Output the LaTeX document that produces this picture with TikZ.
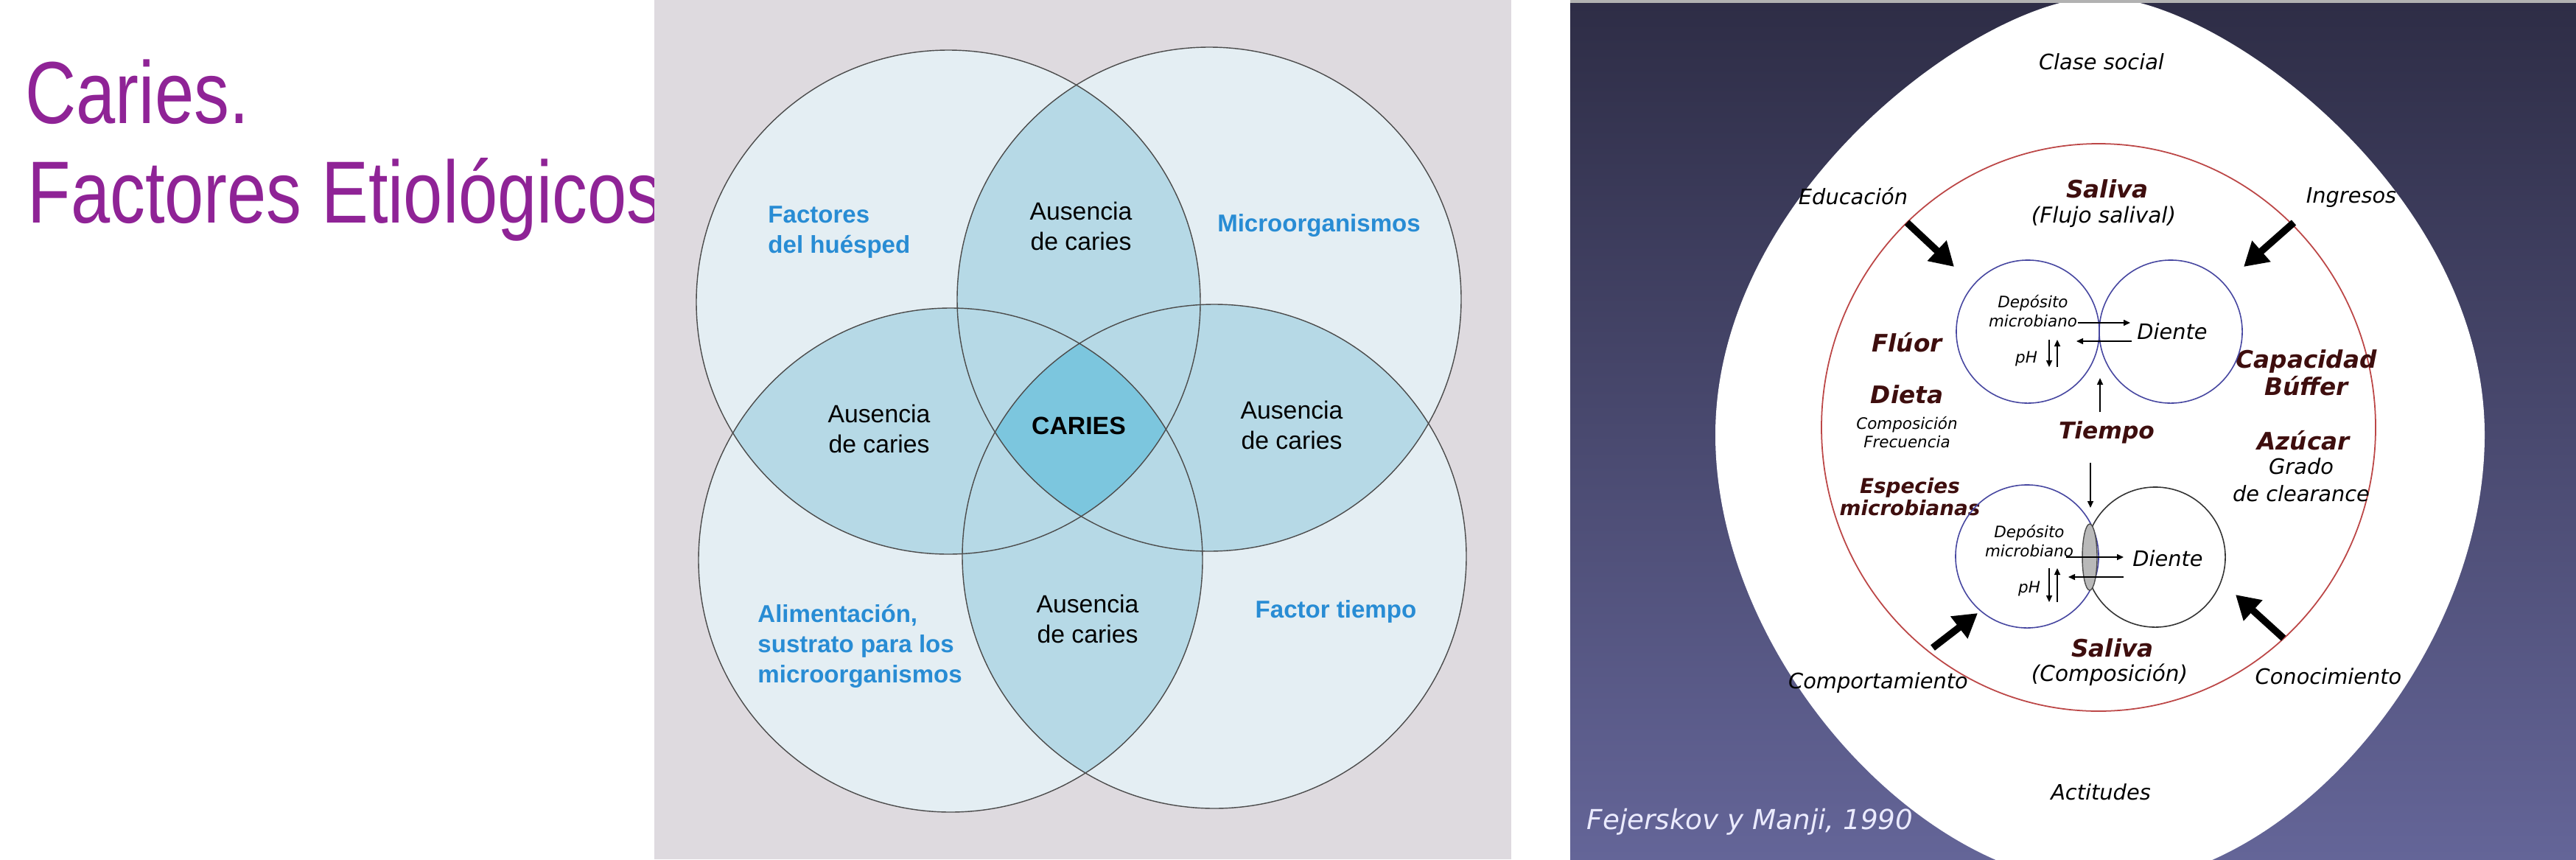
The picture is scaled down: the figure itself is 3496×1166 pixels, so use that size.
\documentclass[tikz,border=0pt]{standalone}
\usepackage{fontspec}
\setmainfont{Liberation Sans}
\newfontfamily\titlefont[FakeStretch=0.8]{Liberation Sans}
\newfontfamily\slidefont{DejaVu Sans}
\usetikzlibrary{positioning,arrows.meta}

\definecolor{titlepurple}{RGB}{143,35,150}
\definecolor{vennbg}{RGB}{222,218,223}
\definecolor{vennone}{RGB}{228,238,243}
\definecolor{venntwo}{RGB}{182,217,230}
\definecolor{vennall}{RGB}{124,198,222}
\definecolor{vennblue}{RGB}{40,140,212}
\definecolor{slidetop}{RGB}{46,45,70}
\definecolor{slidebottom}{RGB}{100,101,152}
\definecolor{causebrown}{RGB}{62,14,14}
\definecolor{ringred}{RGB}{188,70,70}
\definecolor{cellblue}{RGB}{70,70,160}

\begin{document}
\begin{tikzpicture}[x=0.01cm,y=-0.01cm]
   \tikzstyle{bigarrow} = [line width=0.95mm,-{Triangle[length=3.2mm,width=3.6mm]}]
   \tikzstyle{smallarrow} = [line width=0.45pt,-{Triangle[length=0.9mm,width=0.8mm]}]
   \tikzset{title/.style = {anchor=base west, inner sep=0pt, text=titlepurple, font=\titlefont\fontsize{34}{38}\selectfont}, }
   \tikzset{absent/.style = {align=center, font=\fontsize{9.6}{11.6}\selectfont}, }
   \tikzset{factor/.style = {align=left, text=vennblue, font=\bfseries\fontsize{9.4}{11.6}\selectfont}, }
   \tikzset{vennline/.style = {draw=black!70, line width=0.4pt}, }
   \tikzset{outerlabel/.style = {font=\slidefont\itshape\fontsize{8.2}{10}\selectfont}, }
   \tikzset{cause/.style = {align=center, text=causebrown, font=\slidefont\bfseries\itshape\fontsize{9.3}{10.5}\selectfont}, }
   \tikzset{fine/.style = {align=center, font=\slidefont\itshape\fontsize{6.1}{7.2}\selectfont}, }
   \tikzset{cell/.style = {circle, draw=cellblue, line width=0.45pt, minimum size=1.94cm}, }

   \path[use as bounding box, fill=white] (0,0) rectangle (3496,1166);

   % title
   \node[title] (caries) at (34,167) {Caries.};
   \node[title] (etiologia) at (37,302) {Factores Etiológicos};

   % venn panel
   \fill[vennbg] (888,0) rectangle (2051,1166);
   \coordinate (host) at (1287,410);
   \coordinate (micro) at (1641,406);
   \coordinate (food) at (1290,760);
   \coordinate (time) at (1648,755);
   \foreach \c in {host,micro,food,time} \fill[vennone] (\c) circle[radius=342];
   \foreach \a/\b in {host/micro,host/food,host/time,micro/food,micro/time,food/time}{
     \begin{scope}
       \clip (\a) circle[radius=342];
       \fill[venntwo] (\b) circle[radius=342];
     \end{scope}}
   \begin{scope}
     \clip (host) circle[radius=342];
     \clip (micro) circle[radius=342];
     \clip (food) circle[radius=342];
     \fill[vennall] (time) circle[radius=342];
   \end{scope}
   \foreach \c in {host,micro,food,time} \draw[vennline] (\c) circle[radius=342];

   \node[absent] (topabs) at (1467,307) {Ausencia\\de caries};
   \node[absent] (leftabs) at (1193,582) {Ausencia\\de caries};
   \node[absent] (rightabs) at (1753,577) {Ausencia\\de caries};
   \node[absent] (lowabs) at (1476,840) {Ausencia\\de caries};
   \node[absent, font=\bfseries\fontsize{9.6}{11.6}\selectfont] (core) at (1464,578) {CARIES};
   \node[factor, anchor=west] (hostlabel) at (1030,315) {Factores\\del huésped};
   \node[factor] (microlabel) at (1790,306) {Microorganismos};
   \node[factor, anchor=west] (foodlabel) at (1016,877) {Alimentación,\\sustrato para los\\microorganismos};
   \node[factor] (timelabel) at (1813,830) {Factor tiempo};

   % slide
   \fill[gray!60] (2131,0) rectangle (3496,4);
   \shade[top color=slidetop, bottom color=slidebottom] (2131,4) rectangle (3496,1166);
   \begin{scope}
     \clip (2131,4) rectangle (3496,1166);
     \fill[white] (2328,590) .. controls (2328,260) and (2690,-4) .. (2850,-4)
                  .. controls (3010,-4) and (3372,260) .. (3372,590)
                  .. controls (3372,890) and (3106,1200) .. (2856,1200)
                  .. controls (2606,1200) and (2328,890) .. (2328,590) -- cycle;
   \end{scope}
   \draw[ringred, line width=0.5pt] (2848,580) ellipse[x radius=376, y radius=385];

   % social factors
   \node[outerlabel] (clase) at (2852,84) {Clase social};
   \node[outerlabel] (educacion) at (2515,266) {Educación};
   \node[outerlabel] (ingresos) at (3191,268) {Ingresos};
   \node[outerlabel] (comportamiento) at (2549,927) {Comportamiento};
   \node[outerlabel] (conocimiento) at (3160,918) {Conocimiento};
   \node[outerlabel] (actitudes) at (2851,1075) {Actitudes};

   % oral factors
   \node[cause] (salivaflow) at (2860,256) {Saliva};
   \node[outerlabel, font=\slidefont\itshape\fontsize{8.4}{10}\selectfont] (flow) at (2855,294) {(Flujo salival)};
   \node[cause] (fluor) at (2588,465) {Flúor};
   \node[cause] (dieta) at (2588,535) {Dieta};
   \node[fine, below=-2pt of dieta] (dietsub) {Composición\\Frecuencia};
   \node[cause, font=\slidefont\bfseries\itshape\fontsize{7.9}{8.6}\selectfont] (especies) at (2592,674) {Especies\\microbianas};
   \node[cause, font=\slidefont\bfseries\itshape\fontsize{8.9}{10}\selectfont] (tiempo) at (2859,587) {Tiempo};
   \node[cause] (buffer) at (3130,506) {Capacidad\\Búffer};
   \node[cause] (azucar) at (3126,598) {Azúcar};
   \node[outerlabel, align=center, font=\slidefont\itshape\fontsize{8.2}{10.4}\selectfont] (clearance) at (3123,651) {Grado\\de clearance};
   \node[cause] (salivacomp) at (2867,879) {Saliva};
   \node[outerlabel, font=\slidefont\itshape\fontsize{8.4}{10}\selectfont] (comp) at (2863,916) {(Composición)};

   % plaque and tooth
   \node[cell] (plaque) at (2752,450) {};
   \node[cell] (tooth) at (2946,450) {};
   \node[cell] (plaquelow) at (2751,755) {};
   \node[cell, draw=black!80, minimum size=1.9cm] (toothlow) at (2925,756) {};
   \filldraw[fill=gray!55, draw=black!70, line width=0.4pt] (2836,756) ellipse[x radius=10, y radius=45];

   \node[fine] (deposit) at (2759,422) {Depósito\\microbiano};
   \node[outerlabel] (diente) at (2948,450) {Diente};
   \node[fine] (ph) at (2750,487) {pH};
   \node[fine] (depositlow) at (2754,734) {Depósito\\microbiano};
   \node[outerlabel] (dientelow) at (2942,758) {Diente};
   \node[fine] (phlow) at (2754,799) {pH};

   \coordinate (acidA) at (2820,438); \coordinate (acidB) at (2891,438);
   \coordinate (backA) at (2893,463); \coordinate (backB) at (2818,463);
   \coordinate (acidlowA) at (2804,756); \coordinate (acidlowB) at (2882,756);
   \coordinate (backlowA) at (2882,783); \coordinate (backlowB) at (2807,783);
   \draw[smallarrow] (acidA) -- (acidB);
   \draw[smallarrow] (backA) -- (backB);
   \draw[smallarrow] (acidlowA) -- (acidlowB);
   \draw[smallarrow] (backlowA) -- (backlowB);

   % pH up and down
   \coordinate (phtop) at (2781,461); \coordinate (phbot) at (2781,498);
   \coordinate (phtopB) at (2792,461); \coordinate (phbotB) at (2792,498);
   \draw[smallarrow] (phtop) -- (phbot);
   \draw[smallarrow] (phbotB) -- (phtopB);
   \coordinate (phlowtop) at (2781,771); \coordinate (phlowbot) at (2781,817);
   \coordinate (phlowtopB) at (2792,771); \coordinate (phlowbotB) at (2792,817);
   \draw[smallarrow] (phlowtop) -- (phlowbot);
   \draw[smallarrow] (phlowbotB) -- (phlowtopB);

   % time
   \coordinate (timeup) at (2850,513);
   \coordinate (timedown) at (2837,689);
   \draw[smallarrow] (tiempo.north -| timeup) -- (timeup);
   \draw[smallarrow] (2837,628) coordinate (timestart) -- (timedown);

   % social pressure
   \coordinate (educA) at (2588,302); \coordinate (educB) at (2652,362);
   \coordinate (ingA) at (3113,302); \coordinate (ingB) at (3045,362);
   \coordinate (compA) at (2623,879); \coordinate (compB) at (2684,832);
   \coordinate (conA) at (3099,866); \coordinate (conB) at (3034,807);
   \draw[bigarrow] (educA) -- (educB);
   \draw[bigarrow] (ingA) -- (ingB);
   \draw[bigarrow] (compA) -- (compB);
   \draw[bigarrow] (conA) -- (conB);

   \node[font=\slidefont\itshape\fontsize{10.6}{12}\selectfont, text=white!92!blue] (source) at (2375,1115) {Fejerskov y Manji, 1990};
\end{tikzpicture}
\end{document}
